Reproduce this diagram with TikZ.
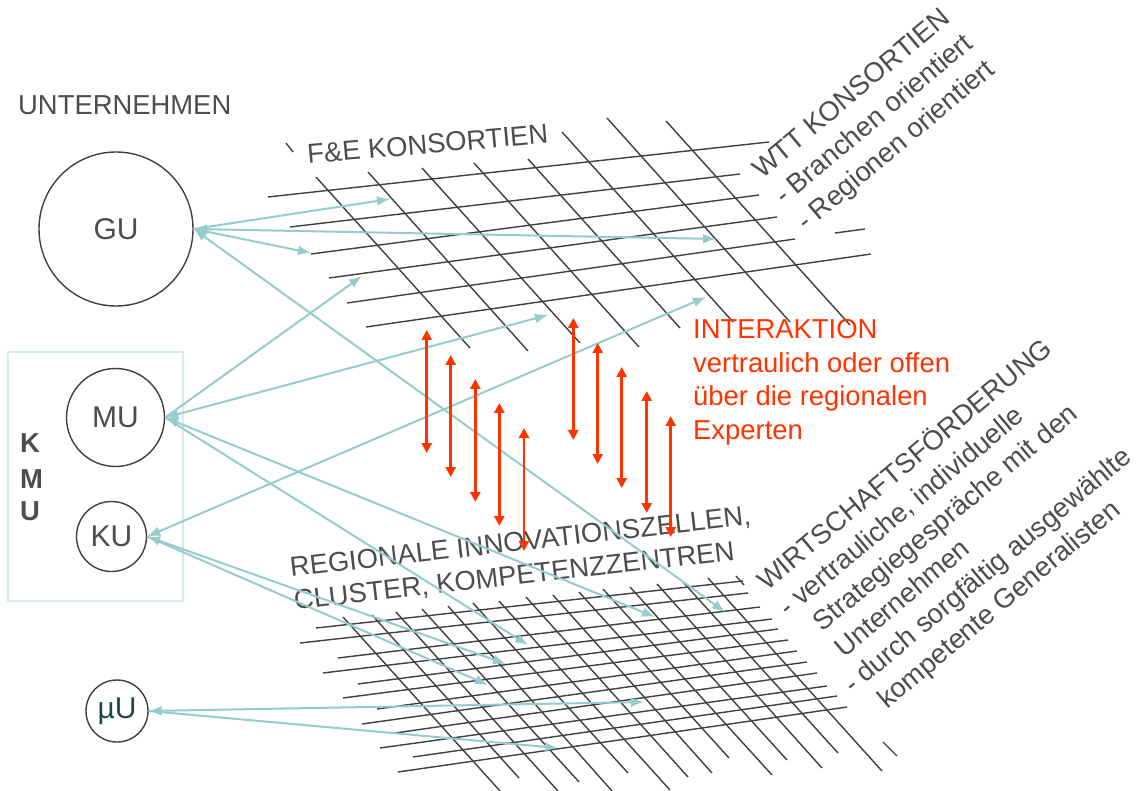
\documentclass[tikz,border=0pt]{standalone}
\usepackage{fontspec}
\setmainfont{Liberation Sans}
\usetikzlibrary{arrows.meta}
\definecolor{tealc}{RGB}{150,204,204}
\definecolor{gridc}{RGB}{64,64,64}
\definecolor{txtc}{RGB}{77,77,77}
\definecolor{redc}{RGB}{255,51,0}
\definecolor{boxc}{RGB}{213,236,236}
\definecolor{muc}{RGB}{31,73,73}
\begin{document}
\begin{tikzpicture}[x=1pt,y=-1pt,
  gl/.style={draw=gridc,line width=1.4pt},
  lbl/.style={text=txtc,inner sep=0pt,anchor=base west,font=\fontsize{27.4pt}{33.5pt}\selectfont},
  rlbl/.style={text=redc,inner sep=0pt,anchor=base west,font=\fontsize{27.4pt}{33.5pt}\selectfont},
  unit/.style={circle,draw=gridc,line width=1.4pt,inner sep=0pt,text=txtc,font=\fontsize{30pt}{36pt}\selectfont},
  tarr/.style={draw=tealc,line width=2pt,-{Latex[length=13pt,width=10pt]}},
  tdbl/.style={draw=tealc,line width=2pt,{Latex[length=13pt,width=10pt]}-{Latex[length=13pt,width=10pt]}},
  rarr/.style={draw=redc,line width=2.5pt,{Triangle[length=10pt,width=10pt]}-{Triangle[length=10pt,width=10pt]}}
]
\fill[white] (0,0) rectangle (1138,791);
\useasboundingbox (0,0) rectangle (1138,791);

% ---------- upper grid (F&E / WTT Konsortien)
\draw[gl] (268,197)--(769,142);
\draw[gl] (290,227)--(740,174);
\draw[gl] (311,254)--(759,195);
\draw[gl] (329,278)--(777,217);
\draw[gl] (347,303)--(795,239);
\draw[gl] (835,233)--(865,229);
\draw[gl] (366,327)--(871,254);
\draw[gl] (286,143)--(293,152);
\draw[gl] (316,177)--(470,348);
\draw[gl] (368,172)--(528,351);
\draw[gl] (422,168)--(580,343);
\draw[gl] (474,163)--(639,347);
\draw[gl] (528,159)--(680,328);
\draw[gl] (562,132)--(733,322);
\draw[gl] (607,118)--(790,322);
\draw[gl] (666,121)--(850,325);

% ---------- lower grid (regionale Innovationszellen)
\draw[gl] (316,628)--(743,581);
\draw[gl] (300,643)--(748,593);
\draw[gl] (338,658)--(760,607);
\draw[gl] (323,673)--(772,619);
\draw[gl] (358,684)--(778,629);
\draw[gl] (343,698)--(788,640);
\draw[gl] (377,709)--(797,651);
\draw[gl] (362,724)--(807,662);
\draw[gl] (395,733)--(817,673);
\draw[gl] (380,748)--(827,686);
\draw[gl] (413,757)--(837,696);
\draw[gl] (398,772)--(847,707);
\draw[gl] (343,617)--(500,791);
\draw[gl] (372,615)--(519,778);
\draw[gl] (396,612)--(558,791);
\draw[gl] (422,609)--(579,782);
\draw[gl] (448,606)--(612,791);
\draw[gl] (473,603)--(628,773);
\draw[gl] (499,601)--(670,790);
\draw[gl] (526,597)--(688,777);
\draw[gl] (553,595)--(712,773);
\draw[gl] (579,592)--(729,758);
\draw[gl] (603,589)--(772,775);
\draw[gl] (630,587)--(787,760);
\draw[gl] (657,584)--(822,768);
\draw[gl] (683,582)--(838,753);
\draw[gl] (708,578)--(882,771);
\draw[gl] (736,576)--(744,585);
\draw[gl] (883,742)--(897,756);

% ---------- left column
\node[lbl] (untern) at (18,115) {UNTERNEHMEN};
\node[unit,minimum size=154pt] (GU) at (116,229) {GU};
\node[draw=boxc,line width=1.5pt,minimum width=175pt,minimum height=249pt,inner sep=0pt] (kmubox) at (95.5,476.5) {};
\node[unit,minimum size=98pt] (MU) at (115.5,417.5) {MU};
\node[unit,minimum size=70pt] (KU) at (111.5,536.5) {KU};
\node[unit,minimum size=62pt,text=muc] (mikro) at (117,711) {µU};
\node[lbl,font=\fontsize{27.4pt}{33.5pt}\selectfont\bfseries] (kmuK) at (20,453) {K};
\node[lbl,font=\fontsize{27.4pt}{33.5pt}\selectfont\bfseries] (kmuM) at (20,488) {M};
\node[lbl,font=\fontsize{27.4pt}{33.5pt}\selectfont\bfseries] (kmuU) at (20,520) {U};

% ---------- rotated labels
\node[lbl,rotate=5] (fue) at (308,164) {F\&E KONSORTIEN};
\node[lbl,rotate=40] (wtt1) at (762,180) {WTT KONSORTIEN};
\node[lbl,rotate=40] (wtt2) at (784,206) {- Branchen orientiert};
\node[lbl,rotate=40] (wtt3) at (806,232) {- Regionen orientiert};
\node[lbl,rotate=6.5] (reg1) at (291,577) {REGIONALE INNOVATIONSZELLEN,};
\node[lbl,rotate=6.5] (reg2) at (295,610) {CLUSTER, KOMPETENZZENTREN};
\node[lbl,rotate=40] (wf1) at (767,592) {WIRTSCHAFTSFÖRDERUNG};
\node[lbl,rotate=40] (wf2) at (788.5,617.7) {- vertrauliche, individuelle};
\node[lbl,rotate=40] (wf3) at (810,643.4) {\phantom{- }Strategiegespräche mit den};
\node[lbl,rotate=40] (wf4) at (831.5,669.1) {\phantom{- }Unternehmen};
\node[lbl,rotate=40] (wf5) at (853,694.8) {- durch sorgfältig ausgewählte};
\node[lbl,rotate=40] (wf6) at (874.5,720.5) {\phantom{- }kompetente Generalisten};

% ---------- red interaction text
\node[rlbl] (int1) at (693,339) {INTERAKTION};
\node[rlbl] (int2) at (693,372.7) {vertraulich oder offen};
\node[rlbl] (int3) at (693,406) {über die regionalen};
\node[rlbl] (int4) at (693,439.5) {Experten};

% ---------- teal connector targets
\coordinate (g1) at (390,199);
\coordinate (g2) at (716,239);
\coordinate (g3) at (311,253);
\coordinate (g4) at (725,612);
\coordinate (m1) at (362,276);
\coordinate (m2) at (548,315);
\coordinate (m3) at (655,617);
\coordinate (m4) at (528,645);
\coordinate (k1) at (706,297);
\coordinate (k2) at (506,664);
\coordinate (k3) at (488,685);
\coordinate (u1) at (644,702);
\coordinate (u2) at (558,748);

\draw[tarr] (GU.east) -- (g1);
\draw[tdbl] (GU.east) -- (g2);
\draw[tarr] (GU.east) -- (g3);
\draw[tdbl] (GU.east) -- (g4);
\draw[tarr] (MU.east) -- (m1);
\draw[tdbl] (MU.east) -- (m2);
\draw[tdbl] (MU.east) -- (m3);
\draw[tarr] (MU.east) -- (m4);
\draw[tdbl] (KU.east) -- (k1);
\draw[tdbl] (KU.east) -- (k2);
\draw[tarr] (KU.east) -- (k3);
\draw[tdbl] (mikro.east) -- (u1);
\draw[tarr] (mikro.east) -- (u2);

% ---------- red interaction arrows
\coordinate (r1t) at (426.7,330);   \coordinate (r1b) at (426.7,453);
\coordinate (r2t) at (450.7,355);   \coordinate (r2b) at (450.7,477);
\coordinate (r3t) at (475.3,379);   \coordinate (r3b) at (475.3,502);
\coordinate (r4t) at (499.3,403);   \coordinate (r4b) at (499.3,526);
\coordinate (r5t) at (524,428);     \coordinate (r5b) at (524,551);
\coordinate (r6t) at (573.3,318);   \coordinate (r6b) at (573.3,440);
\coordinate (r7t) at (597.7,343);   \coordinate (r7b) at (597.7,464);
\coordinate (r8t) at (621.7,367);   \coordinate (r8b) at (621.7,488);
\coordinate (r9t) at (646.7,391);   \coordinate (r9b) at (646.7,513);
\coordinate (r10t) at (670.7,416);  \coordinate (r10b) at (670.7,537);
\draw[rarr] (r1t) -- (r1b);
\draw[rarr] (r2t) -- (r2b);
\draw[rarr] (r3t) -- (r3b);
\draw[rarr] (r4t) -- (r4b);
\draw[rarr] (r5t) -- (r5b);
\draw[rarr] (r6t) -- (r6b);
\draw[rarr] (r7t) -- (r7b);
\draw[rarr] (r8t) -- (r8b);
\draw[rarr] (r9t) -- (r9b);
\draw[rarr] (r10t) -- (r10b);
\end{tikzpicture}
\end{document}
